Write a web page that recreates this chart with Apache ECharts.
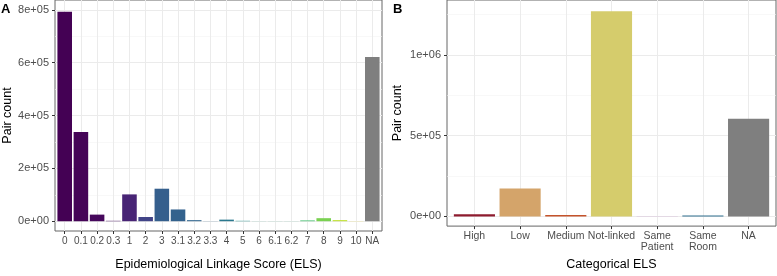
<!DOCTYPE html>
<html>
<head>
    <meta charset="utf-8">
    <script src="https://cdn.jsdelivr.net/npm/echarts@6/dist/echarts.min.js"></script>
</head>
<body style="margin:0">
    <div id="main" style="width: 777px; height: 276px"></div>
    <script type="text/javascript">
        // panel A: counts per ELS score
        var elsCats = ['0', '0.1', '0.2', '0.3', '1', '2', '3', '3.1', '3.2', '3.3', '4', '5', '6', '6.1', '6.2', '7', '8', '9', '10', 'NA'];
        var elsCounts = [793000, 338000, 25000, 1500, 101500, 16000, 123000, 44500, 4000, 500, 6000, 1500, 300, 300, 300, 3000, 11500, 4000, 500, 621000];
        var elsColors = ['#440154', '#450457', '#46085c', '#470d60', '#482475', '#414487', '#355f8d', '#33628d', '#31658e', '#30688e', '#2a788e', '#21918c', '#22a884', '#27ab82', '#2cae80', '#44bf70', '#7ad151', '#bddf26', '#fde725', '#7f7f7f'];
        var ticksA = [0, 200000, 400000, 600000, 800000];
        var minorA = [100000, 300000, 500000, 700000];

        // panel B: counts per categorical ELS
        var catCats = ['High', 'Low', 'Medium', 'Not-linked', 'Same\nPatient', 'Same\nRoom', 'NA'];
        var catCounts = [14000, 172500, 8000, 1270000, 1500, 6000, 605000];
        var catColors = ['#8e1b2e', '#d4a46a', '#c4532b', '#d5cc6c', '#c9a2d0', '#2e6f8e', '#7f7f7f'];
        var ticksB = [0, 500000, 1000000];
        var minorB = [250000, 750000, 1250000];

        var font = 'Liberation Sans';

        function sci(v) {
            if (v === 0) return '0e+00';
            var e = Math.floor(Math.log10(v));
            var m = Math.round(v / Math.pow(10, e));
            return m + 'e+' + (e < 10 ? '0' + e : e);
        }

        function indexList(n) {
            var a = [];
            for (var i = 1; i <= n; i++) a.push(i);
            return a;
        }

        function xAxisFor(gridIndex, cats, name, nameGap, labelSize) {
            return {
                type: 'value', gridIndex: gridIndex,
                min: 0.4, max: cats.length + 0.6,
                name: name, nameLocation: 'middle', nameGap: nameGap,
                nameTextStyle: { fontFamily: font, fontSize: 12.5, color: '#000' },
                axisLine: { show: false, onZero: false },
                axisTick: { show: true, length: 3, customValues: indexList(cats.length), lineStyle: { color: '#333' } },
                axisLabel: {
                    customValues: indexList(cats.length), margin: 5,
                    fontFamily: font, fontSize: labelSize, color: '#4d4d4d', lineHeight: 11,
                    formatter: function (v) { return cats[Math.round(v) - 1]; }
                },
                splitLine: { show: true, lineStyle: { color: '#ebebeb', width: 1 } }
            };
        }

        function yAxisFor(gridIndex, min, max, ticks, name, nameGap) {
            return {
                type: 'value', gridIndex: gridIndex, min: min, max: max,
                name: name, nameLocation: 'middle', nameGap: nameGap,
                nameTextStyle: { fontFamily: font, fontSize: 12.5, color: '#000' },
                axisLine: { show: false, onZero: false },
                axisTick: { show: true, length: 3, customValues: ticks, lineStyle: { color: '#333' } },
                axisLabel: { customValues: ticks, margin: 6, fontFamily: font, fontSize: 11, color: '#4d4d4d', formatter: sci },
                splitLine: { show: true, lineStyle: { color: '#ebebeb', width: 1 } }
            };
        }

        function minorAxis(gridIndex, min, max, minor) {
            return {
                type: 'value', gridIndex: gridIndex, min: min, max: max, position: 'left',
                axisLine: { show: false, onZero: false },
                axisTick: { show: false, customValues: minor },
                axisLabel: { show: false, customValues: minor },
                splitLine: { show: true, lineStyle: { color: '#f4f4f4', width: 0.6 } }
            };
        }

        function barData(counts, colors) {
            return counts.map(function (v, i) {
                return { value: [i + 1, v], itemStyle: { color: colors[i] } };
            });
        }

        var myChart = echarts.init(document.getElementById('main'));
        option = {
            animation: false,
            title: [
                { text: 'A', left: 1, top: 3, padding: 0, textStyle: { fontFamily: font, fontSize: 13, fontWeight: 'bold', color: '#000' } },
                { text: 'B', left: 393, top: 3, padding: 0, textStyle: { fontFamily: font, fontSize: 13, fontWeight: 'bold', color: '#000' } }
            ],
            grid: [
                { left: 54, top: 0, width: 328, height: 235, show: true, borderColor: '#666', borderWidth: 1, backgroundColor: 'transparent' },
                { left: 447, top: 0, width: 329, height: 235, show: true, borderColor: '#666', borderWidth: 1, backgroundColor: 'transparent' }
            ],
            xAxis: [
                xAxisFor(0, elsCats, 'Epidemiological Linkage Score (ELS)', 27, 10),
                xAxisFor(1, catCats, 'Categorical ELS', 27, 10.5)
            ],
            yAxis: [
                yAxisFor(0, -37000, 837000, ticksA, 'Pair count', 41),
                minorAxis(0, -37000, 837000, minorA),
                yAxisFor(1, -60000, 1339000, ticksB, 'Pair count', 43),
                minorAxis(1, -60000, 1339000, minorB)
            ],
            series: [
                { type: 'bar', xAxisIndex: 0, yAxisIndex: 0, barWidth: '90%', data: barData(elsCounts, elsColors) },
                { type: 'bar', xAxisIndex: 1, yAxisIndex: 2, barWidth: '90%', data: barData(catCounts, catColors) }
            ]
        };
        myChart.setOption(option);
    </script>
</body>
</html>
